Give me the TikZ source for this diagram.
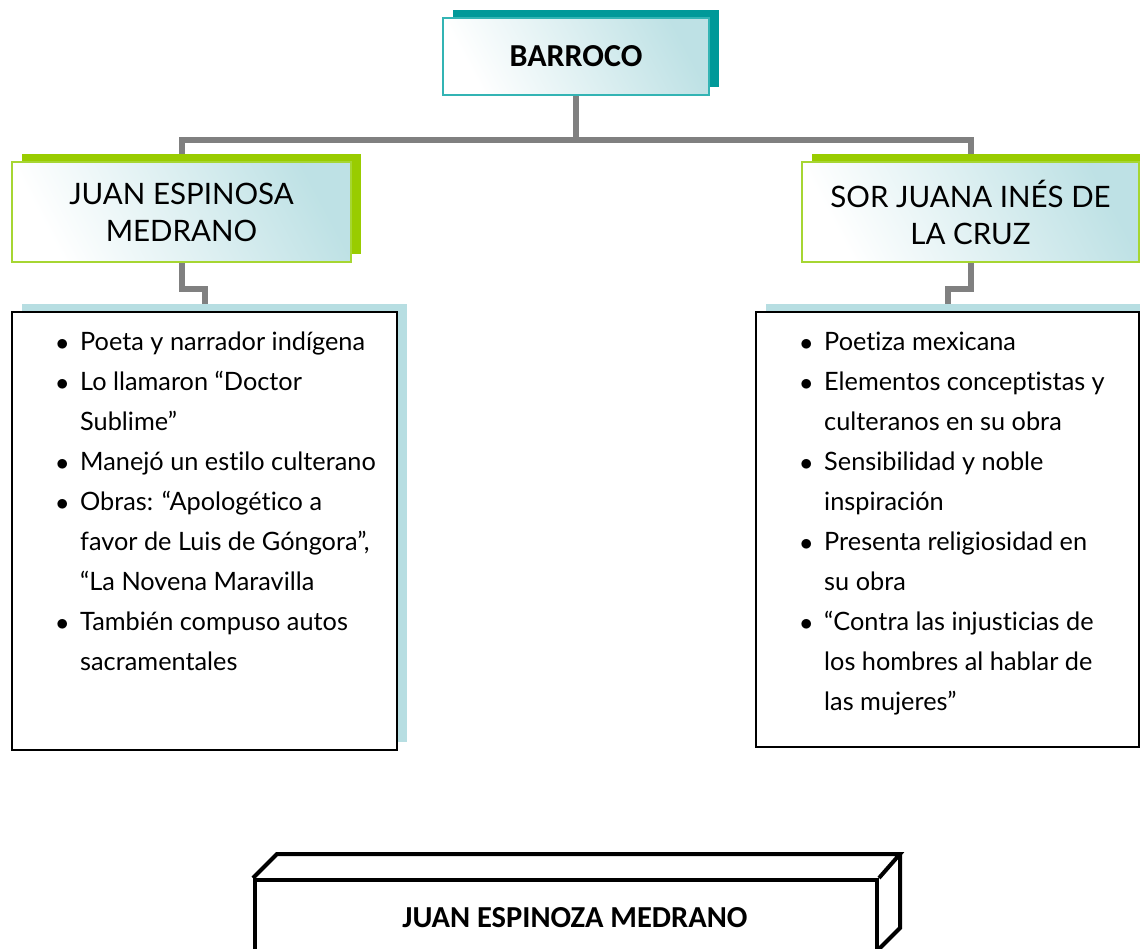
\documentclass[tikz,border=0pt]{standalone}
\usepackage{fontspec}
\setmainfont[RawFeature=-liga]{Lato}
\newfontfamily\titulofont{Carlito}
\usetikzlibrary{positioning, calc, backgrounds, shadows}

\definecolor{azulsombra}{RGB}{183,222,226}
\definecolor{verdelima}{RGB}{153,204,0}
\definecolor{verdeborde}{RGB}{166,214,50}
\definecolor{turquesa}{RGB}{0,153,153}
\definecolor{turquesaborde}{RGB}{51,180,180}
\definecolor{gris}{RGB}{128,128,128}

\newcommand{\vinieta}{\makebox[24pt][l]{$\bullet$}}
\newcommand{\sangria}{\hspace*{24pt}}

\begin{document}
\begin{tikzpicture}[
  x=1pt, y=-1pt,
  caja/.style={draw, line width=1.2pt, inner sep=0pt, left color=white,
               right color=azulsombra!90, shading angle=118},
  cajatitulo/.style={caja, draw=turquesaborde,
               general shadow={fill=turquesa, shadow xshift=10pt, shadow yshift=8pt},
               font=\titulofont\bfseries\fontsize{32}{36}\selectfont},
  cajanombre/.style={caja, draw=verdeborde,
               general shadow={fill=verdelima, shadow xshift=10pt, shadow yshift=8pt},
               align=center, font=\fontsize{29.5}{37}\selectfont},
  cajalista/.style={draw=black, line width=2pt, fill=white, inner sep=0pt,
               general shadow={fill=azulsombra, shadow xshift=10pt, shadow yshift=8pt}},
  lista/.style={align=left, inner sep=0pt, anchor=north west,
               font=\fontsize{25.3}{40}\selectfont},
  conector/.style={draw=gris, line width=6pt},
  caja3d/.style={draw=black, line width=4pt, line join=miter}
]
\useasboundingbox (0,0) rectangle (1140,948);

\node[cajatitulo, minimum width=266, minimum height=77] (barroco) at (576,56.5) {BARROCO};

\node[cajanombre, minimum width=339, minimum height=100] (jem) at (181.5,212) {JUAN ESPINOSA\\MEDRANO};
\node[cajanombre, minimum width=337, minimum height=100] (sor) at (970.5,212) {SOR JUANA INÉS DE\\LA CRUZ};

\node[cajalista, minimum width=385, minimum height=438] (jemlista) at (204.5,531) {};
\node[cajalista, minimum width=383, minimum height=435] (sorlista) at (947.5,529.5) {};

\node[lista] (jemtexto) at (56,332) {\vinieta Poeta y narrador indígena\\
  \vinieta Lo llamaron “Doctor\\
  \sangria Sublime”\\
  \vinieta Manejó un estilo culterano\\
  \vinieta Obras: “Apologético a\\
  \sangria favor de Luis de Góngora”,\\
  \sangria “La Novena Maravilla\\
  \vinieta También compuso autos\\
  \sangria sacramentales};
\node[lista] (sortexto) at (800,332) {\vinieta Poetiza mexicana\\
  \vinieta Elementos conceptistas y\\
  \sangria culteranos en su obra\\
  \vinieta Sensibilidad y noble\\
  \sangria inspiración\\
  \vinieta Presenta religiosidad en\\
  \sangria su obra\\
  \vinieta “Contra las injusticias de\\
  \sangria los hombres al hablar de\\
  \sangria las mujeres”};

% conectores detras de las cajas
\begin{scope}[on background layer]
\draw[conector] (barroco.south) -- ++(0,44) coordinate (rama) -| (jem.north);
\draw[conector] (rama) -| (sor.north);
\draw[conector] (jem.south) -- ++(0,26) -| (jemlista.north);
\draw[conector] (sor.south) -- ++(0,26) -| (sorlista.north);
\end{scope}

% caja en relieve
\node[caja3d, minimum width=622, minimum height=100, anchor=north west, inner sep=0pt] (frente) at (253,878) {};
\draw[caja3d] (frente.north west) -- ++(24,-24) -- ++(623,0) coordinate (fondo) -- (frente.north east);
\draw[caja3d] (fondo) -- ++(0,74) -- ++(-25,25);
\node[font=\titulofont\bfseries\fontsize{30.5}{34}\selectfont] (espinoza) at (575,918) {JUAN ESPINOZA MEDRANO};
\end{tikzpicture}
\end{document}
